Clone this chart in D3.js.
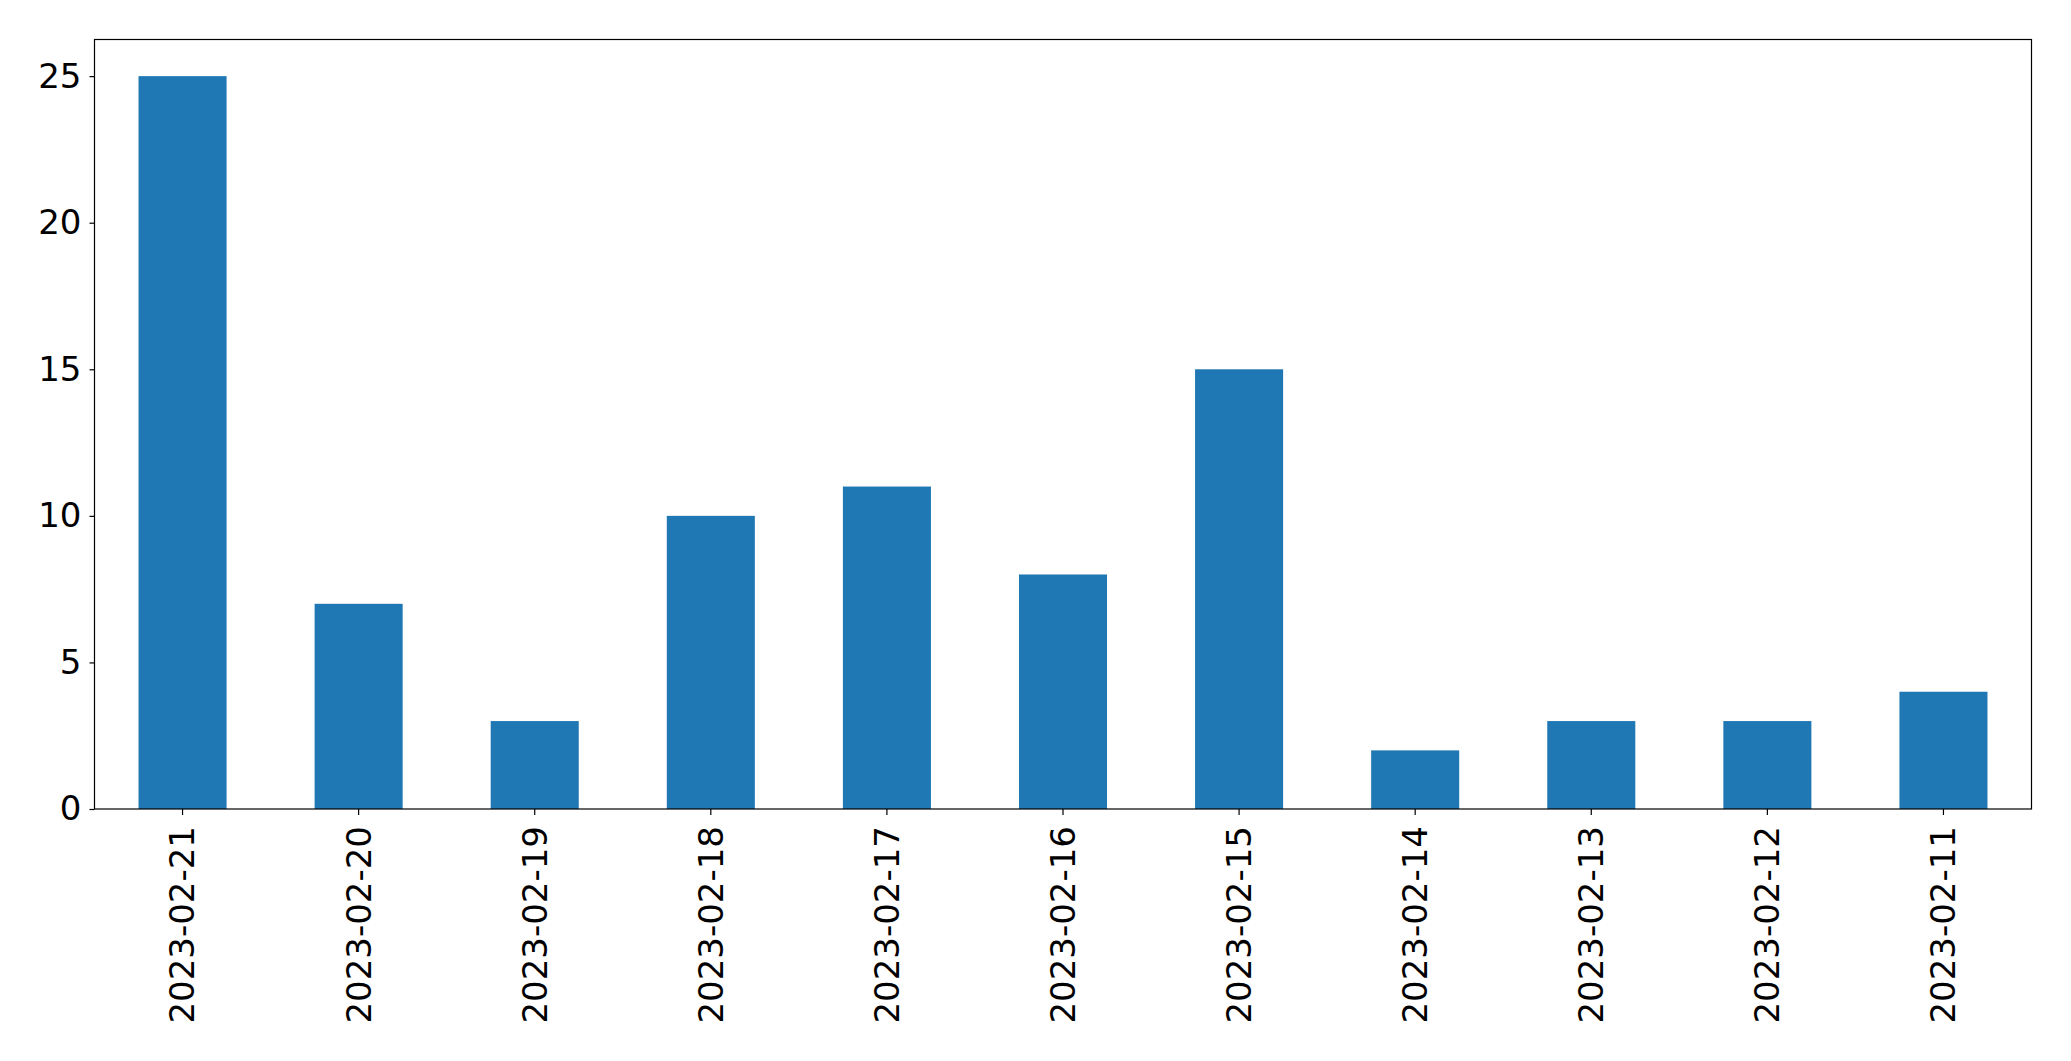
<!DOCTYPE html>
<html><head><meta charset="utf-8">
<script src="https://cdn.jsdelivr.net/npm/d3@7"></script>
<style>html,body{margin:0;padding:0;background:#fff;}</style>
</head><body>
<svg id="c" width="2071" height="1061"></svg>
<script>
const categories = ["2023-02-21","2023-02-20","2023-02-19","2023-02-18","2023-02-17","2023-02-16","2023-02-15","2023-02-14","2023-02-13","2023-02-12","2023-02-11"];
const values = [25, 7, 3, 10, 11, 8, 15, 2, 3, 3, 4];
const yTicks = [0, 5, 10, 15, 20, 25];

const W = 2071, H = 1061;
const m = {left: 94.5, right: 2031.5, top: 39.5, bottom: 809};
const svg = d3.select("#c");
const font = "DejaVu Sans, sans-serif";

const x = d3.scaleBand().domain(categories).range([m.left, m.right]).paddingInner(0.5).paddingOuter(0.25);
const y = d3.scaleLinear().domain([0, 26.25]).range([m.bottom, m.top]);

svg.append("g").selectAll("rect").data(values).join("rect")
  .attr("x", (d, i) => x(categories[i]))
  .attr("width", x.bandwidth())
  .attr("y", d => y(d))
  .attr("height", d => y(0) - y(d))
  .attr("fill", "#1f77b4");

const ya = svg.append("g").attr("transform", `translate(${m.left},0)`)
  .call(d3.axisLeft(y).tickValues(yTicks).tickSize(5).tickPadding(8).tickFormat(d3.format("d")));
ya.select(".domain").remove();
ya.selectAll("text").attr("font-family", font).attr("font-size", 34).attr("fill", "#000");
ya.selectAll("line").attr("stroke", "#000").attr("stroke-width", 1.2);

const xa = svg.append("g").attr("transform", `translate(0,${m.bottom})`)
  .call(d3.axisBottom(x).tickSize(6).tickPadding(0));
xa.select(".domain").remove();
xa.selectAll("line").attr("stroke", "#000").attr("stroke-width", 1.2);
xa.selectAll("text")
  .attr("font-family", font).attr("font-size", 34).attr("fill", "#000")
  .attr("text-anchor", "end")
  .attr("dy", "0.35em")
  .attr("transform", "translate(0,17) rotate(-90)")
  .attr("x", 0).attr("y", 0);

svg.append("rect")
  .attr("x", m.left).attr("y", m.top)
  .attr("width", m.right - m.left).attr("height", m.bottom - m.top)
  .attr("fill", "none").attr("stroke", "#000").attr("stroke-width", 1.2);
</script>
</body></html>
